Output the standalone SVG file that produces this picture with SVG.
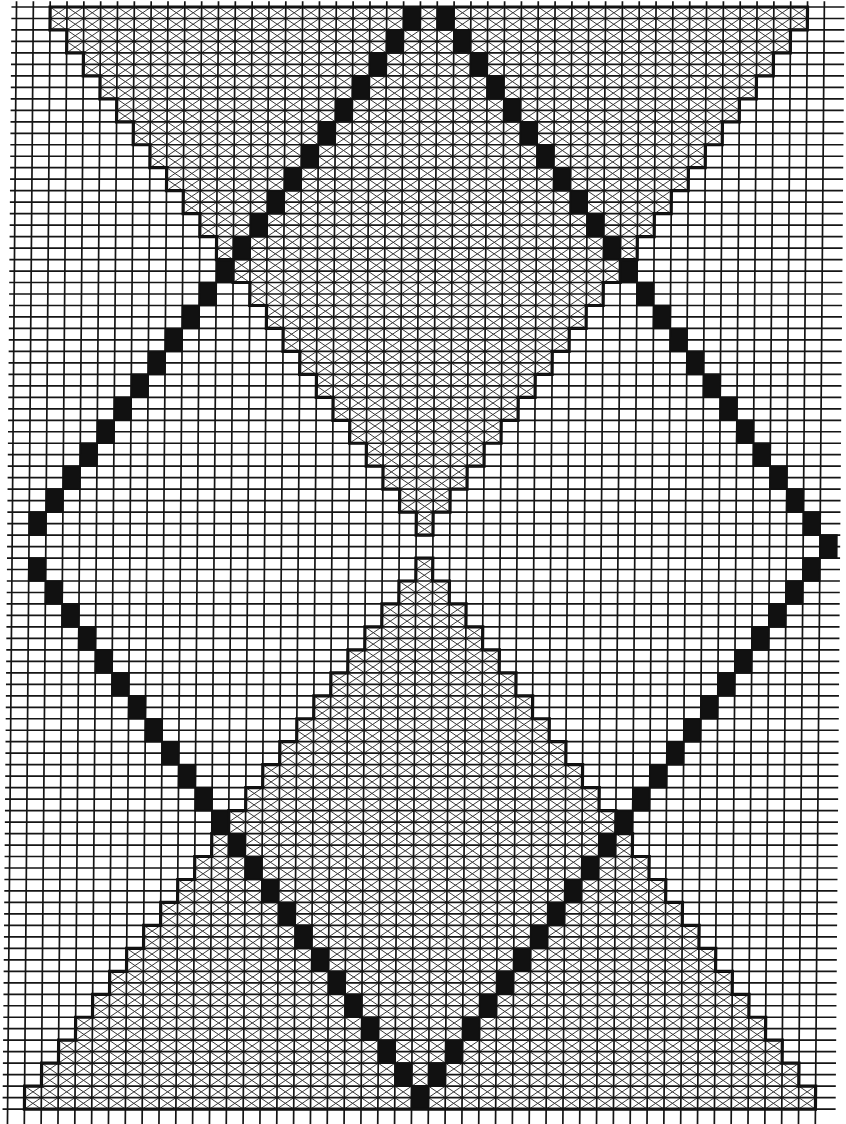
<svg xmlns="http://www.w3.org/2000/svg" width="846" height="1124" viewBox="0 0 846 1124">
<style>
.ns{vector-effect:non-scaling-stroke}
.grid{fill:none;stroke:#151515;stroke-width:1.7}
.hatch{fill:none;stroke:#3a3a3a;stroke-width:1}
.blk{fill:#111;stroke:#111;stroke-width:1.6}
.edge{fill:none;stroke:#111;stroke-width:3.2;stroke-linejoin:miter}
</style>
<defs>
<clipPath id="shade" clipPathUnits="userSpaceOnUse">
<path d="M2 0H47v2h-1v2h-1v2h-1v2h-1v2h-1v2h-1v2h-1v2h-1v2h-1v2h-1v2h-1v2h-1v2h-1v2h-1v2h-1v2h-1v2h-1v2h-1v2h-1v2h-1v2h-1v2h-1v2h-1v-2h-1v-2h-1v-2h-1v-2h-1v-2h-1v-2h-1v-2h-1v-2h-1v-2h-1v-2h-1v-2h-1v-2h-1v-2h-1v-2h-1v-2h-1v-2h-1v-2h-1v-2h-1v-2h-1v-2h-1v-2h-1v-2h-1Z"/>
<path d="M24 48H25v2h1v2h1v2h1v2h1v2h1v2h1v2h1v2h1v2h1v2h1v2h1v2h1v2h1v2h1v2h1v2h1v2h1v2h1v2h1v2h1v2h1v2h1v2h1v2H1v-2h1v-2h1v-2h1v-2h1v-2h1v-2h1v-2h1v-2h1v-2h1v-2h1v-2h1v-2h1v-2h1v-2h1v-2h1v-2h1v-2h1v-2h1v-2h1v-2h1v-2h1v-2h1v-2h1Z"/>
</clipPath>
<path id="d10" class="hatch ns" d="M0 0l97 97m-96-97l97 97m-96-97l97 97m-96-97l97 97m-96-97l97 97m-96-97l97 97m-96-97l97 97m-96-97l97 97m-96-97l97 97m-96-97l97 97"/>
<path id="a10" class="hatch ns" d="M0 0l-97 97m98-97l-97 97m98-97l-97 97m98-97l-97 97m98-97l-97 97m98-97l-97 97m98-97l-97 97m98-97l-97 97m98-97l-97 97m98-97l-97 97"/>
</defs>
<rect width="846" height="1124" fill="#fff"/>
<g transform="matrix(16.83 0 -0.0928 11.48 16.5 7)">
<g id="hatch" clip-path="url(#shade)">
<use href="#d10" x="-100"/><use href="#d10" x="-90"/><use href="#d10" x="-80"/><use href="#d10" x="-70"/><use href="#d10" x="-60"/><use href="#d10" x="-50"/><use href="#d10" x="-40"/><use href="#d10" x="-30"/><use href="#d10" x="-20"/><use href="#d10" x="-10"/><use href="#d10" x="0"/><use href="#d10" x="10"/><use href="#d10" x="20"/><use href="#d10" x="30"/><use href="#d10" x="40"/>
<use href="#a10" x="0"/><use href="#a10" x="10"/><use href="#a10" x="20"/><use href="#a10" x="30"/><use href="#a10" x="40"/><use href="#a10" x="50"/><use href="#a10" x="60"/><use href="#a10" x="70"/><use href="#a10" x="80"/><use href="#a10" x="90"/><use href="#a10" x="100"/><use href="#a10" x="110"/><use href="#a10" x="120"/><use href="#a10" x="130"/><use href="#a10" x="140"/>
</g>
<path id="grid" class="grid ns" d="M0-.5v98m1-98v98m1-98v98m1-98v98m1-98v98m1-98v98m1-98v98m1-98v98m1-98v98m1-98v98m1-98v98m1-98v98m1-98v98m1-98v98m1-98v98m1-98v98m1-98v98m1-98v98m1-98v98m1-98v98m1-98v98m1-98v98m1-98v98m1-98v98m1-98v98m1-98v98m1-98v98m1-98v98m1-98v98m1-98v98m1-98v98m1-98v98m1-98v98m1-98v98m1-98v98m1-98v98m1-98v98m1-98v98m1-98v98m1-98v98m1-98v98m1-98v98m1-98v98m1-98v98m1-98v98m1-98v98m1-98v98m1-98v98m1-98v98
M-.3 0h49.5m-49.5 1h49.5m-49.5 1h49.5m-49.5 1h49.5m-49.5 1h49.5m-49.5 1h49.5m-49.5 1h49.5m-49.5 1h49.5m-49.5 1h49.5m-49.5 1h49.5m-49.5 1h49.5
m-49.5 1h49.5m-49.5 1h49.5m-49.5 1h49.5m-49.5 1h49.5m-49.5 1h49.5m-49.5 1h49.5m-49.5 1h49.5m-49.5 1h49.5m-49.5 1h49.5m-49.5 1h49.5
m-49.5 1h49.5m-49.5 1h49.5m-49.5 1h49.5m-49.5 1h49.5m-49.5 1h49.5m-49.5 1h49.5m-49.5 1h49.5m-49.5 1h49.5m-49.5 1h49.5m-49.5 1h49.5
m-49.5 1h49.5m-49.5 1h49.5m-49.5 1h49.5m-49.5 1h49.5m-49.5 1h49.5m-49.5 1h49.5m-49.5 1h49.5m-49.5 1h49.5m-49.5 1h49.5m-49.5 1h49.5
m-49.5 1h49.5m-49.5 1h49.5m-49.5 1h49.5m-49.5 1h49.5m-49.5 1h49.5m-49.5 1h49.5m-49.5 1h49.5m-49.5 1h49.5m-49.5 1h49.5m-49.5 1h49.5
m-49.5 1h49.5m-49.5 1h49.5m-49.5 1h49.5m-49.5 1h49.5m-49.5 1h49.5m-49.5 1h49.5m-49.5 1h49.5m-49.5 1h49.5m-49.5 1h49.5m-49.5 1h49.5
m-49.5 1h49.5m-49.5 1h49.5m-49.5 1h49.5m-49.5 1h49.5m-49.5 1h49.5m-49.5 1h49.5m-49.5 1h49.5m-49.5 1h49.5m-49.5 1h49.5m-49.5 1h49.5
m-49.5 1h49.5m-49.5 1h49.5m-49.5 1h49.5m-49.5 1h49.5m-49.5 1h49.5m-49.5 1h49.5m-49.5 1h49.5m-49.5 1h49.5m-49.5 1h49.5m-49.5 1h49.5
m-49.5 1h49.5m-49.5 1h49.5m-49.5 1h49.5m-49.5 1h49.5m-49.5 1h49.5m-49.5 1h49.5m-49.5 1h49.5m-49.5 1h49.5m-49.5 1h49.5m-49.5 1h49.5
m-49.5 1h49.5m-49.5 1h49.5m-49.5 1h49.5m-49.5 1h49.5m-49.5 1h49.5m-49.5 1h49.5"/>
<g id="blocks">
<path class="blk ns" d="M23 0h1v2h-1zm-1 2h1v2h-1zm-1 2h1v2h-1zm-1 2h1v2h-1zm-1 2h1v2h-1zm-1 2h1v2h-1zm-1 2h1v2h-1zm-1 2h1v2h-1zm-1 2h1v2h-1zm-1 2h1v2h-1zm-1 2h1v2h-1zm-1 2h1v2h-1zm-1 2h1v2h-1zm-1 2h1v2h-1zm-1 2h1v2h-1zm-1 2h1v2h-1zm-1 2h1v2h-1zm-1 2h1v2h-1zm-1 2h1v2h-1zm-1 2h1v2h-1zm-1 2h1v2h-1zm-1 2h1v2h-1zm-1 2h1v2h-1z"/>
<path class="blk ns" d="M25 0h1v2h-1zm1 2h1v2h-1zm1 2h1v2h-1zm1 2h1v2h-1zm1 2h1v2h-1zm1 2h1v2h-1zm1 2h1v2h-1zm1 2h1v2h-1zm1 2h1v2h-1zm1 2h1v2h-1zm1 2h1v2h-1zm1 2h1v2h-1zm1 2h1v2h-1zm1 2h1v2h-1zm1 2h1v2h-1zm1 2h1v2h-1zm1 2h1v2h-1zm1 2h1v2h-1zm1 2h1v2h-1zm1 2h1v2h-1zm1 2h1v2h-1zm1 2h1v2h-1zm1 2h1v2h-1zm1 2h1v2h-1z"/>
<path class="blk ns" d="M1 48h1v2h-1zm1 2h1v2h-1zm1 2h1v2h-1zm1 2h1v2h-1zm1 2h1v2h-1zm1 2h1v2h-1zm1 2h1v2h-1zm1 2h1v2h-1zm1 2h1v2h-1zm1 2h1v2h-1zm1 2h1v2h-1zm1 2h1v2h-1zm1 2h1v2h-1zm1 2h1v2h-1zm1 2h1v2h-1zm1 2h1v2h-1zm1 2h1v2h-1zm1 2h1v2h-1zm1 2h1v2h-1zm1 2h1v2h-1zm1 2h1v2h-1zm1 2h1v2h-1zm1 2h1v2h-1zm1 2h1v2h-1z"/>
<path class="blk ns" d="M47 48h1v2h-1zm-1 2h1v2h-1zm-1 2h1v2h-1zm-1 2h1v2h-1zm-1 2h1v2h-1zm-1 2h1v2h-1zm-1 2h1v2h-1zm-1 2h1v2h-1zm-1 2h1v2h-1zm-1 2h1v2h-1zm-1 2h1v2h-1zm-1 2h1v2h-1zm-1 2h1v2h-1zm-1 2h1v2h-1zm-1 2h1v2h-1zm-1 2h1v2h-1zm-1 2h1v2h-1zm-1 2h1v2h-1zm-1 2h1v2h-1zm-1 2h1v2h-1zm-1 2h1v2h-1zm-1 2h1v2h-1zm-1 2h1v2h-1zm-1 2h1v2h-1z"/>
</g>
<g id="outline">
<path class="edge ns" d="M2 0H47v2h-1v2h-1v2h-1v2h-1v2h-1v2h-1v2h-1v2h-1v2h-1v2h-1v2h-1v2h-1v2h-1v2h-1v2h-1v2h-1v2h-1v2h-1v2h-1v2h-1v2h-1v2h-1v2h-1v-2h-1v-2h-1v-2h-1v-2h-1v-2h-1v-2h-1v-2h-1v-2h-1v-2h-1v-2h-1v-2h-1v-2h-1v-2h-1v-2h-1v-2h-1v-2h-1v-2h-1v-2h-1v-2h-1v-2h-1v-2h-1v-2h-1Z"/>
<path class="edge ns" d="M24 48H25v2h1v2h1v2h1v2h1v2h1v2h1v2h1v2h1v2h1v2h1v2h1v2h1v2h1v2h1v2h1v2h1v2h1v2h1v2h1v2h1v2h1v2h1v2h1v2H1v-2h1v-2h1v-2h1v-2h1v-2h1v-2h1v-2h1v-2h1v-2h1v-2h1v-2h1v-2h1v-2h1v-2h1v-2h1v-2h1v-2h1v-2h1v-2h1v-2h1v-2h1v-2h1v-2h1Z"/>
</g>
</g>
</svg>
